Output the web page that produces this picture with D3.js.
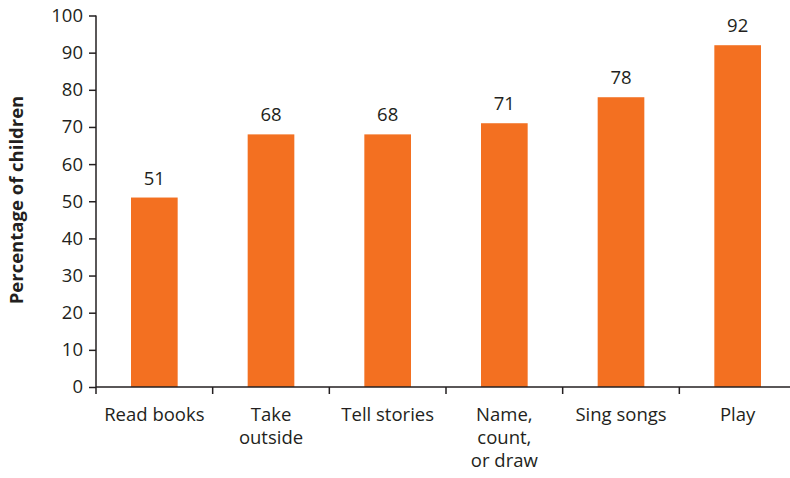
<!DOCTYPE html>
<html>
<head>
<meta charset="utf-8">
<script src="https://cdn.jsdelivr.net/npm/d3@7"></script>
<style>
body{margin:0;background:#fff;}
svg text{font-family:"Open Sans","Noto Sans",sans-serif;fill:#231f20;}
</style>
</head>
<body>
<svg id="svg1" width="790" height="478"></svg>
<script>
// data
const categories = ["Read books", "Take\noutside", "Tell stories", "Name,\ncount,\nor draw", "Sing songs", "Play"];
const values = [51, 68, 68, 71, 78, 92];
const yTicks = [0, 10, 20, 30, 40, 50, 60, 70, 80, 90, 100];

const svg = d3.select('#svg1');
const ink = '#231f20';
const orange = '#f37021';
const fs = '18.5px';

// scales
const x = d3.scaleBand().domain(categories).range([96, 796]).paddingInner(0.6).paddingOuter(0.3);
const y = d3.scaleLinear().domain([0, 100]).range([387, 15.5]);

// bars
svg.selectAll('.bar')
  .data(values)
  .enter().append('rect')
  .attr('class', 'bar')
  .attr('x', (d, i) => x(categories[i]))
  .attr('y', d => y(d))
  .attr('width', x.bandwidth())
  .attr('height', d => y(0) - y(d))
  .attr('fill', orange);

// value labels
svg.selectAll('.val')
  .data(values)
  .enter().append('text')
  .attr('class', 'val')
  .attr('x', (d, i) => x(categories[i]) + x.bandwidth() / 2)
  .attr('y', d => y(d) - 13)
  .attr('text-anchor', 'middle')
  .style('font-size', fs)
  .text(d => d);

// y axis
const yAxisG = svg.append('g')
  .attr('transform', 'translate(96,0)')
  .call(d3.axisLeft(y).tickValues(yTicks).tickSize(7).tickPadding(6));
yAxisG.select('.domain').attr('stroke', ink).attr('stroke-width', 1.5).attr('d', `M0,${y(100)}V${y(0)}`);
yAxisG.selectAll('.tick line').attr('stroke', ink).attr('stroke-width', 1.5);
yAxisG.selectAll('.tick text').style('font-size', fs).attr('fill', ink);

// x axis: boundary ticks between bands
const step = x.step();
const bounds = d3.range(0, categories.length + 1).map(i => 96 + i * step);
svg.append('line')
  .attr('x1', 96).attr('x2', 790)
  .attr('y1', y(0)).attr('y2', y(0))
  .attr('stroke', ink).attr('stroke-width', 1.5);
svg.selectAll('.xtick')
  .data(bounds)
  .enter().append('line')
  .attr('class', 'xtick')
  .attr('x1', d => d).attr('x2', d => d)
  .attr('y1', y(0)).attr('y2', y(0) + 7)
  .attr('stroke', ink).attr('stroke-width', 1.5);

// category labels
const lab = svg.selectAll('.cat')
  .data(categories)
  .enter().append('text')
  .attr('class', 'cat')
  .attr('text-anchor', 'middle')
  .style('font-size', fs)
  .attr('transform', d => `translate(${x(d) + x.bandwidth() / 2},421)`);
lab.selectAll('tspan')
  .data(d => d.split('\n'))
  .enter().append('tspan')
  .attr('x', 0)
  .attr('dy', (d, i) => i === 0 ? 0 : 23)
  .text(d => d);

// y title
svg.append('text')
  .attr('transform', 'translate(23,200) rotate(-90)')
  .attr('text-anchor', 'middle')
  .style('font-size', fs)
  .style('font-weight', 'bold')
  .text('Percentage of children');
</script>
</body>
</html>
